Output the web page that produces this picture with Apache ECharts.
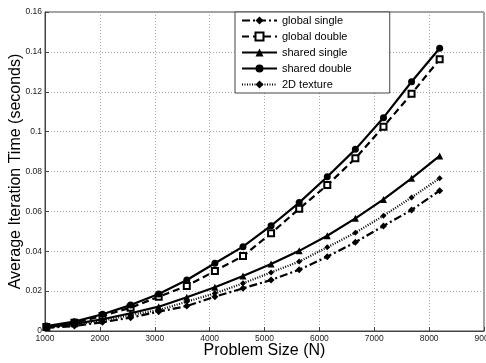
<!DOCTYPE html>
<html>
<head>
<meta charset="utf-8">
<script src="https://cdn.jsdelivr.net/npm/echarts@6/dist/echarts.min.js"></script>
<style>
  html, body { margin: 0; padding: 0; background: #fff; }
  #chart { width: 486px; height: 363px; }
</style>
</head>
<body>
<div id="chart"></div>
<script>
// problem sizes (N)
const sizes = [1024, 1536, 2048, 2560, 3072, 3584, 4096, 4608, 5120, 5632, 6144, 6656, 7168, 7680, 8192];

// average iteration time, seconds
const globalSingle = [0.0016, 0.0025, 0.0044, 0.0067, 0.0097, 0.0125, 0.0172, 0.0214, 0.0256, 0.0307, 0.0373, 0.0445, 0.0527, 0.0607, 0.0704];
const globalDouble = [0.0020, 0.0042, 0.0075, 0.0117, 0.0172, 0.0226, 0.0301, 0.0376, 0.0490, 0.0613, 0.0732, 0.0866, 0.1025, 0.1190, 0.1363];
const sharedSingle = [0.0019, 0.0036, 0.0059, 0.0089, 0.0122, 0.0169, 0.0219, 0.0276, 0.0336, 0.0402, 0.0478, 0.0565, 0.0660, 0.0766, 0.0878];
const sharedDouble = [0.0025, 0.0047, 0.0084, 0.0130, 0.0186, 0.0256, 0.0340, 0.0423, 0.0528, 0.0644, 0.0774, 0.0911, 0.1070, 0.1250, 0.1418];
const texture2D = [0.0018, 0.0032, 0.0052, 0.0080, 0.0105, 0.0147, 0.0189, 0.0239, 0.0294, 0.0348, 0.0420, 0.0493, 0.0578, 0.0670, 0.0766];

const pairs = (ys) => sizes.map((x, i) => [x, ys[i]]);

const chart = echarts.init(document.getElementById('chart'));

const tickFont = 'Liberation Sans Narrow, Liberation Sans, Arial, sans-serif';

const mkSeries = (name, ys, dash, symbol, symbolSize, fill) => ({
  name: name,
  type: 'line',
  data: pairs(ys),
  symbol: symbol,
  symbolSize: symbolSize,
  showAllSymbol: true,
  animation: false,
  lineStyle: { color: '#000', width: 2.2, type: dash },
  itemStyle: { color: fill || '#000', borderColor: '#000', borderWidth: fill ? 2 : 0 },
});

const option = {
  backgroundColor: '#fff',
  textStyle: { fontFamily: 'Liberation Sans, Arial, sans-serif' },
  grid: {
    left: 45, right: 2, top: 12, bottom: 32,
    containLabel: false,
    outerBoundsMode: 'none',
    show: true, borderColor: '#444', borderWidth: 1,
  },
  legend: {
    orient: 'vertical',
    left: 235,
    top: 12,
    padding: [3, 38, 3, 6],
    itemWidth: 35,
    itemHeight: 10,
    itemGap: 5,
    backgroundColor: '#fff',
    borderColor: '#444',
    borderWidth: 1,
    borderRadius: 0,
    textStyle: { fontSize: 11, color: '#000' },
    data: ['global single', 'global double', 'shared single', 'shared double', '2D texture'],
  },
  xAxis: {
    type: 'value',
    min: 1000,
    max: 9000,
    interval: 1000,
    name: 'Problem Size (N)',
    nameLocation: 'middle',
    nameGap: 12,
    nameMoveOverlap: false,
    nameTextStyle: { fontSize: 16, color: '#000' },
    axisLine: { lineStyle: { color: '#444' } },
    axisTick: { inside: true, length: 4, lineStyle: { color: '#444' } },
    axisLabel: {
      fontSize: 8.5, fontFamily: tickFont, color: '#222', margin: 3,
      formatter: (v) => String(v),
    },
    splitLine: { show: true, lineStyle: { color: '#aaa', type: [1, 2] } },
  },
  yAxis: {
    type: 'value',
    min: 0,
    max: 0.16,
    interval: 0.02,
    name: 'Average Iteration Time (seconds)',
    nameLocation: 'middle',
    nameGap: 21,
    nameMoveOverlap: false,
    nameTextStyle: { fontSize: 16, color: '#000' },
    axisLine: { show: true, lineStyle: { color: '#444' } },
    axisTick: { show: true, inside: true, length: 4, lineStyle: { color: '#444' } },
    axisLabel: {
      fontSize: 8.5, fontFamily: tickFont, color: '#222', margin: 3,
      formatter: (v) => (v === 0 ? '0' : String(+v.toFixed(2))),
    },
    splitLine: { show: true, lineStyle: { color: '#aaa', type: [1, 2] } },
  },
  series: [
    mkSeries('global single', globalSingle, [8, 3, 2, 3], 'diamond', 7),
    mkSeries('global double', globalDouble, [7, 4], 'rect', 6, '#fff'),
    mkSeries('shared single', sharedSingle, 'solid', 'triangle', 7),
    mkSeries('shared double', sharedDouble, 'solid', 'circle', 7),
    mkSeries('2D texture', texture2D, [1, 1.5], 'diamond', 6),
  ],
};

chart.setOption(option);
</script>
</body>
</html>
